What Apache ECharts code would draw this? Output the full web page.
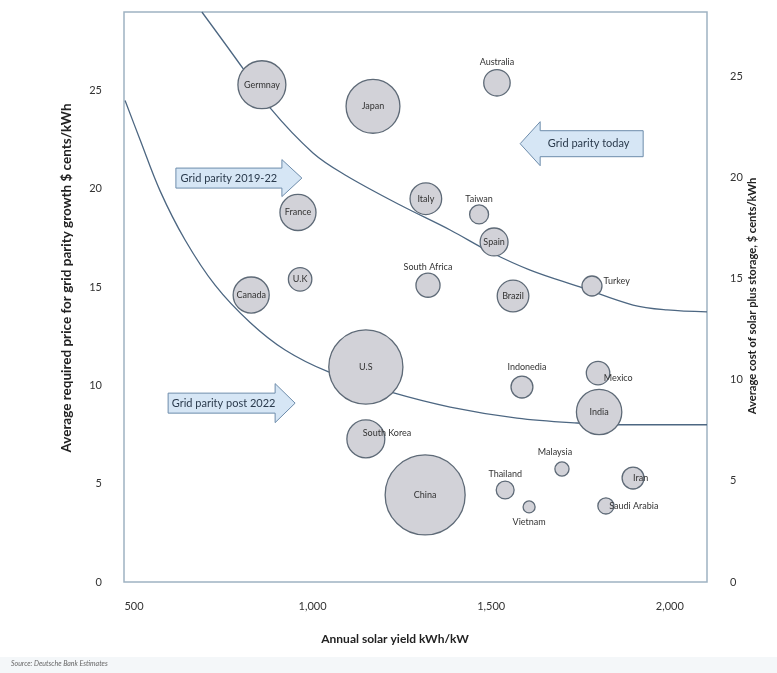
<!DOCTYPE html>
<html><head><meta charset="utf-8">
<script src="https://cdn.jsdelivr.net/npm/echarts@6/dist/echarts.min.js"></script>
<style>html,body{margin:0;padding:0;background:#fff}#c{width:777px;height:673px}</style>
</head><body><div id="c"></div>
<script>
// ---- data ----
const countries = ['Germnay','Japan','Australia','Italy','France','Taiwan','Spain','South Africa','U.K','Canada','Brazil','Turkey','U.S','Indonedia','Mexico','India','South Korea','China','Malaysia','Thailand','Vietnam','Iran','Saudi Arabia'];
const solarYield = [858,1169,1516,1317,959,1466,1508,1323,965,828,1561,1782,1149,1586,1799,1802,1149,1315,1698,1539,1606,1897,1821];
const parityPrice = [25.3,24.2,25.4,19.5,18.8,18.7,17.3,15.1,15.4,14.6,14.55,15.06,10.94,9.92,10.63,8.65,7.28,4.43,5.75,4.68,3.82,5.29,3.87];
const marketSize = [23,29,7,10,13,3.6,7.8,5.8,5.5,13,10,4,55,4.8,5.5,20.6,14.4,64,2,3.2,1.44,4.8,2.6];

const parityTodayX = [690,808,881,1001,1091,1245,1385,1497,1609,1748,1897,1992,2104];
const parityTodayY = [29.0,26.05,24.12,21.83,20.71,19.18,17.91,16.79,15.87,15.01,14.09,13.84,13.74];
const parityPostX = [475,517,573,643,727,825,923,1043,1217,1385,1572,1740,1869,2104];
const parityPostY = [24.5,22.5,19.9,17.4,15.1,13.2,11.8,10.7,9.67,8.9,8.34,8.09,8.0,8.0];

const xTicks = [500,1000,1500,2000];
const leftTicks = [0,5,10,15,20,25];
const rightTicks = [0,5,10,15,20,25];

const arrowTexts = ['Grid parity 2019-22','Grid parity today','Grid parity post 2022'];
const arrowTipX = [970,1581,951];
const arrowTipY = [20.55,22.3,9.1];

// ---- label placement (style) ----
const FONT = 'Lato, "Open Sans", sans-serif';
const labelPlace = {
  'Australia': {position:'top', distance:2},
  'Taiwan': {position:'top', distance:1},
  'South Africa': {position:'top', distance:1},
  'Turkey': {position:'right', distance:1, offset:[0,-5]},
  'Indonedia': {position:'top', distance:4, offset:[5,0]},
  'Mexico': {position:['73%','71%'], align:'left', verticalAlign:'middle'},
  'South Korea': {position:['42%','34%'], align:'left', verticalAlign:'middle'},
  'Malaysia': {position:'top', distance:5, offset:[-7,0]},
  'Thailand': {position:'top', distance:2},
  'Vietnam': {position:'bottom', distance:4},
  'Iran': {position:['50%','50%'], align:'left', verticalAlign:'middle'},
  'Saudi Arabia': {position:['69%','50%'], align:'left', verticalAlign:'middle'}
};

const bubbleData = countries.map((n,i)=>{
  const p = labelPlace[n] || {position:'inside'};
  return {name:n, value:[solarYield[i], parityPrice[i], marketSize[i]], label:Object.assign({}, p)};
});

const chart = echarts.init(document.getElementById('c'), null, {renderer:'canvas'});
const tickLabel = {color:'#333', fontSize:11, fontFamily:FONT};
const option = {
  backgroundColor:'#fff',
  animation:false,
  grid:{left:124, top:12, width:583, height:570, show:true, borderColor:'#9fb2c2', borderWidth:1.5, backgroundColor:'transparent'},
  xAxis:{type:'value', min:472, max:2104,
    axisLine:{show:false}, axisTick:{show:false}, splitLine:{show:false},
    axisLabel:Object.assign({customValues:xTicks, margin:19, formatter:v=>v.toLocaleString('en-US')}, tickLabel)},
  yAxis:[
    {type:'value', min:0, max:29, position:'left',
     axisLine:{show:false}, axisTick:{show:false}, splitLine:{show:false},
     axisLabel:Object.assign({customValues:leftTicks, margin:22}, tickLabel)},
    {type:'value', min:0, max:28.2, position:'right',
     axisLine:{show:false}, axisTick:{show:false}, splitLine:{show:false},
     axisLabel:Object.assign({customValues:rightTicks, margin:23}, tickLabel)}
  ],
  series:[
    {type:'line', name:'Grid parity today', data:parityTodayX.map((x,i)=>[x,parityTodayY[i]]),
     smooth:0.35, symbol:'none', clip:true, lineStyle:{color:'#4d6782', width:1.3}, z:2},
    {type:'line', name:'Grid parity post 2022', data:parityPostX.map((x,i)=>[x,parityPostY[i]]),
     smooth:0.35, symbol:'none', clip:true, lineStyle:{color:'#4d6782', width:1.3}, z:2},
    {type:'scatter', name:'Countries', data:bubbleData, z:3,
     symbolSize:v=>Math.sqrt(v[2])*10,
     itemStyle:{color:'#d2d2d8', borderColor:'#5e6a77', borderWidth:1.3, opacity:1},
     label:{show:true, formatter:'{b}', color:'#333', fontSize:9, fontFamily:FONT}}
  ]
};
chart.setOption(option);

// ---- annotations ----
const g = [];
const arrowSpec = [
  {dir:1, L:126, H:20, b:10, h:18.5, tdx:0},
  {dir:-1, L:123, H:20, b:13, h:22, tdx:-3},
  {dir:1, L:127, H:20, b:10, h:19.5, tdx:2}
];
arrowTexts.forEach((t,i)=>{
  const [tx,ty] = chart.convertToPixel({xAxisIndex:0, yAxisIndex:0}, [arrowTipX[i], arrowTipY[i]]);
  const s = arrowSpec[i], d = s.dir;
  const pts = [[tx-d*s.L,ty-s.b],[tx-d*s.H,ty-s.b],[tx-d*s.H,ty-s.h],[tx,ty],[tx-d*s.H,ty+s.h],[tx-d*s.H,ty+s.b],[tx-d*s.L,ty+s.b]];
  g.push({type:'polygon', z:10, shape:{points:pts}, style:{fill:'#d6e6f5', stroke:'#6d8cab', lineWidth:1}});
  g.push({type:'text', z:11, x:tx-d*(s.L+s.H)/2 + s.tdx, y:ty, style:{text:t, fill:'#2a3a4c', font:'11px '+FONT, align:'center', verticalAlign:'middle'}});
});
g.push({type:'text', x:67, y:278, rotation:Math.PI/2, style:{text:'Average required price for grid parity growth $ cents/kWh', fill:'#222', font:'bold 13.5px '+FONT, align:'center', verticalAlign:'middle'}});
g.push({type:'text', x:752, y:296, rotation:Math.PI/2, style:{text:'Average cost of solar plus storage, $ cents/kWh', fill:'#222', font:'bold 11.2px '+FONT, align:'center', verticalAlign:'middle'}});
g.push({type:'text', x:395, y:639, style:{text:'Annual solar yield kWh/kW', fill:'#222', font:'bold 12px '+FONT, align:'center', verticalAlign:'middle'}});
g.push({type:'rect', z:0, shape:{x:0,y:657,width:777,height:16}, style:{fill:'#f4f7f9'}});
g.push({type:'text', z:1, x:11, y:664, style:{text:'Source: Deutsche Bank Estimates', fill:'#666', font:'italic 7px '+FONT, align:'left', verticalAlign:'middle'}});
chart.setOption({graphic:g});
</script></body></html>
